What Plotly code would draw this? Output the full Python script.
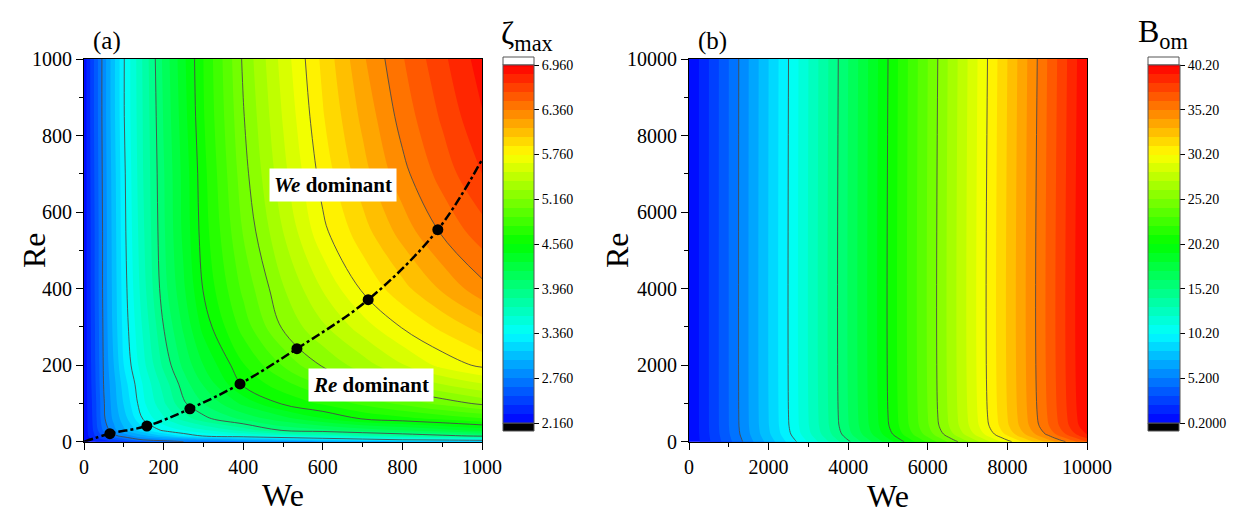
import plotly.graph_objects as go

# ---------------- data: panel (a) zeta_max(We, Re) ----------------
we_a = [0, 25, 50, 75, 100, 150, 200, 250, 300, 400, 500, 600, 700, 800, 900, 1000]
re_a = [0, 5, 15, 30, 60, 100, 150, 200, 300, 400, 550, 700, 850, 1000]
zeta_re0 = [2.20, 2.26, 2.33, 2.40, 2.47, 2.60, 2.70, 2.76, 2.80, 2.86, 2.92, 2.98, 3.04, 3.10, 3.15, 3.20]
zeta_re5 = [2.20, 2.30, 2.40, 2.50, 2.60, 2.77, 2.81, 2.86, 2.91, 3.00, 3.09, 3.18, 3.27, 3.36, 3.39, 3.42]
zeta_re15 = [2.20, 2.38, 2.55, 2.72, 2.81, 2.96, 3.11, 3.26, 3.37, 3.46, 3.55, 3.64, 3.73, 3.82, 3.91, 3.99]
zeta_re30 = [2.20, 2.42, 2.67, 2.84, 2.98, 3.20, 3.39, 3.49, 3.58, 3.77, 3.98, 4.05, 4.13, 4.20, 4.28, 4.36]
zeta_re60 = [2.20, 2.44, 2.74, 2.91, 3.06, 3.38, 3.58, 3.77, 3.92, 4.11, 4.27, 4.43, 4.57, 4.64, 4.71, 4.79]
zeta_re100 = [2.20, 2.45, 2.75, 2.94, 3.13, 3.46, 3.70, 3.94, 4.08, 4.35, 4.58, 4.70, 4.83, 4.95, 5.08, 5.19]
zeta_re150 = [2.20, 2.47, 2.77, 2.96, 3.18, 3.50, 3.77, 4.02, 4.21, 4.58, 4.75, 4.94, 5.15, 5.28, 5.40, 5.51]
zeta_re200 = [2.20, 2.48, 2.78, 3.00, 3.24, 3.57, 3.87, 4.11, 4.32, 4.67, 4.93, 5.18, 5.34, 5.51, 5.68, 5.79]
zeta_re300 = [2.20, 2.49, 2.79, 3.04, 3.28, 3.63, 3.96, 4.22, 4.48, 4.85, 5.18, 5.38, 5.58, 5.77, 5.91, 6.05]
zeta_re400 = [2.20, 2.50, 2.80, 3.05, 3.30, 3.68, 4.03, 4.30, 4.57, 4.95, 5.27, 5.53, 5.78, 5.96, 6.14, 6.32]
zeta_re550 = [2.20, 2.50, 2.80, 3.06, 3.32, 3.71, 4.06, 4.35, 4.62, 5.05, 5.40, 5.73, 5.95, 6.17, 6.38, 6.55]
zeta_re700 = [2.20, 2.51, 2.81, 3.07, 3.33, 3.73, 4.07, 4.36, 4.64, 5.11, 5.48, 5.81, 6.07, 6.32, 6.53, 6.72]
zeta_re850 = [2.20, 2.52, 2.82, 3.09, 3.35, 3.74, 4.09, 4.39, 4.67, 5.15, 5.53, 5.87, 6.15, 6.41, 6.62, 6.83]
zeta_re1000 = [2.20, 2.52, 2.82, 3.09, 3.35, 3.75, 4.11, 4.41, 4.68, 5.18, 5.57, 5.91, 6.22, 6.47, 6.69, 6.90]
zeta_grid = [zeta_re0, zeta_re5, zeta_re15, zeta_re30, zeta_re60, zeta_re100, zeta_re150,
             zeta_re200, zeta_re300, zeta_re400, zeta_re550, zeta_re700, zeta_re850, zeta_re1000]

# transition curve (dash-dot) and its markers
trans_we = [0, 65, 158, 266, 392, 535, 714, 889, 1000]
trans_re = [0, 21, 41, 86, 151, 243, 371, 554, 737]
dots_we = [65, 158, 266, 392, 535, 714, 889]
dots_re = [21, 41, 86, 151, 243, 371, 554]

# ---------------- data: panel (b) B_om(We, Re) ----------------
we_b = [0, 1000, 2000, 3000, 4000, 5000, 6000, 7000, 8000, 9000, 10000]
re_b = [0, 50, 100, 200, 400, 700, 10000]
bom_re0 = [0.20, 3.90, 7.60, 11.30, 15.00, 18.70, 22.40, 26.10, 29.80, 33.50, 37.20]
bom_re50 = [0.20, 3.96, 7.72, 11.48, 15.24, 19.00, 22.76, 26.52, 30.28, 34.04, 37.80]
bom_re100 = [0.20, 4.01, 7.83, 11.64, 15.46, 19.27, 23.08, 26.90, 30.71, 34.53, 38.34]
bom_re200 = [0.20, 4.11, 8.02, 11.93, 15.84, 19.75, 23.66, 27.57, 31.48, 35.39, 39.30]
bom_re400 = [0.20, 4.18, 8.15, 12.13, 16.10, 20.08, 24.06, 28.03, 32.01, 35.98, 39.96]
bom_re700 = [0.20, 4.20, 8.20, 12.20, 16.20, 20.20, 24.20, 28.20, 32.20, 36.20, 40.20]
bom_re10000 = [0.20, 4.20, 8.20, 12.20, 16.20, 20.20, 24.20, 28.20, 32.20, 36.20, 40.20]
bom_grid = [bom_re0, bom_re50, bom_re100, bom_re200, bom_re400, bom_re700, bom_re10000]

# colour-bar tick values / labels
cb_a_vals = [2.16, 2.76, 3.36, 3.96, 4.56, 5.16, 5.76, 6.36, 6.96]
cb_a_text = ["2.160", "2.760", "3.360", "3.960", "4.560", "5.160", "5.760", "6.360", "6.960"]
cb_b_vals = [0.2, 5.2, 10.2, 15.2, 20.2, 25.2, 30.2, 35.2, 40.2]
cb_b_text = ["0.2000", "5.200", "10.20", "15.20", "20.20", "25.20", "30.20", "35.20", "40.20"]

# ---------------- styling ----------------
W, H = 1233, 514
FONT = "Times New Roman, Liberation Serif, serif"
jet = [[0.0, "rgb(0,0,255)"], [0.25, "rgb(0,255,255)"], [0.5, "rgb(0,255,0)"],
       [0.75, "rgb(255,255,0)"], [1.0, "rgb(255,0,0)"]]

def px_x(p):
    return p / W

def px_y(p):
    return 1 - p / H

ax_a = [px_x(84), px_x(482)]
ax_b = [px_x(689), px_x(1087)]
ay = [px_y(441.7), px_y(59)]

fig = go.Figure()

# panel (a) filled contours
fig.add_trace(go.Contour(
    x=we_a, y=re_a, z=zeta_grid, colorscale=jet, zmin=2.16, zmax=6.96,
    contours=dict(start=2.16, end=6.96, size=0.12, coloring="fill", showlines=False),
    line=dict(width=0, smoothing=1.0),
    colorbar=dict(x=px_x(503), xanchor="left", y=px_y(244), yanchor="middle",
                  len=358 / H, lenmode="fraction", thickness=31, thicknessmode="pixels",
                  outlinewidth=1, outlinecolor="#555", tickmode="array",
                  tickvals=cb_a_vals, ticktext=cb_a_text, ticks="outside", ticklen=5,
                  tickcolor="black", tickfont=dict(family=FONT, size=14, color="black"),
                  xpad=0, ypad=0),
    xaxis="x", yaxis="y", hoverinfo="skip"))
# panel (a) contour lines
fig.add_trace(go.Contour(
    x=we_a, y=re_a, z=zeta_grid, showscale=False,
    contours=dict(start=2.76, end=6.36, size=0.6, coloring="none"),
    line=dict(width=0.9, color="#4a4a4a", smoothing=1.0),
    xaxis="x", yaxis="y", hoverinfo="skip"))
# transition line and markers
fig.add_trace(go.Scatter(x=trans_we, y=trans_re, mode="lines",
                         line=dict(color="black", width=2.5, dash="dashdot", shape="spline"),
                         xaxis="x", yaxis="y", showlegend=False, hoverinfo="skip"))
fig.add_trace(go.Scatter(x=dots_we, y=dots_re, mode="markers",
                         marker=dict(color="black", size=11),
                         xaxis="x", yaxis="y", showlegend=False, hoverinfo="skip"))

# panel (b) filled contours
fig.add_trace(go.Contour(
    x=we_b, y=re_b, z=bom_grid, colorscale=jet, zmin=0.2, zmax=40.2,
    contours=dict(start=0.2, end=40.2, size=1.0, coloring="fill", showlines=False),
    line=dict(width=0, smoothing=1.0),
    colorbar=dict(x=px_x(1148), xanchor="left", y=px_y(244), yanchor="middle",
                  len=358 / H, lenmode="fraction", thickness=32, thicknessmode="pixels",
                  outlinewidth=1, outlinecolor="#555", tickmode="array",
                  tickvals=cb_b_vals, ticktext=cb_b_text, ticks="outside", ticklen=5,
                  tickcolor="black", tickfont=dict(family=FONT, size=14, color="black"),
                  xpad=0, ypad=0),
    xaxis="x2", yaxis="y2", hoverinfo="skip"))
fig.add_trace(go.Contour(
    x=we_b, y=re_b, z=bom_grid, showscale=False,
    contours=dict(start=5.2, end=35.2, size=5.0, coloring="none"),
    line=dict(width=0.9, color="#4a4a4a", smoothing=1.0),
    xaxis="x2", yaxis="y2", hoverinfo="skip"))

axis_common = dict(showgrid=False, zeroline=False, showline=True, linecolor="black",
                   linewidth=1.2, mirror=True, ticks="outside", ticklen=7, tickwidth=1.2,
                   tickcolor="black", automargin=False,
                   tickfont=dict(family=FONT, size=20, color="black"))

fig.update_layout(
    width=W, height=H, margin=dict(l=0, r=0, t=0, b=0, autoexpand=False),
    paper_bgcolor="white", plot_bgcolor="white", showlegend=False,
    font=dict(family=FONT, color="black"),
    xaxis=dict(domain=ax_a, anchor="y", range=[0, 1000], dtick=200, tick0=0,
               minor=dict(dtick=100, ticks="outside", ticklen=4, tickcolor="black"),
               title=dict(text="We", font=dict(family=FONT, size=32), standoff=6),
               **axis_common),
    yaxis=dict(domain=ay, anchor="x", range=[0, 1000], dtick=200, tick0=0,
               minor=dict(dtick=100, ticks="outside", ticklen=4, tickcolor="black"),
               **axis_common),
    xaxis2=dict(domain=ax_b, anchor="y2", range=[0, 10000], dtick=2000, tick0=0,
                tickformat="d",
                minor=dict(dtick=1000, ticks="outside", ticklen=4, tickcolor="black"),
                title=dict(text="We", font=dict(family=FONT, size=32), standoff=6),
                **axis_common),
    yaxis2=dict(domain=ay, anchor="x2", range=[0, 10000], dtick=2000, tick0=0,
                tickformat="d",
                minor=dict(dtick=1000, ticks="outside", ticklen=4, tickcolor="black"),
                **axis_common),
)

def paper_text(x, y, text, size, angle=0):
    fig.add_annotation(x=px_x(x), y=px_y(y), xref="paper", yref="paper", showarrow=False,
                       xanchor="center", yanchor="middle", textangle=angle,
                       text=text, font=dict(family=FONT, size=size, color="black"))

# y-axis titles
paper_text(34, 250, "Re", 32, -90)
paper_text(617, 250, "Re", 32, -90)

# region labels
fig.add_annotation(x=626, y=672, xref="x", yref="y", showarrow=False,
                   text="<b><i>We</i> dominant</b>", font=dict(family=FONT, size=21, color="black"),
                   bgcolor="white", borderpad=4)
fig.add_annotation(x=720, y=148, xref="x", yref="y", showarrow=False,
                   text="<b><i>Re</i> dominant</b>", font=dict(family=FONT, size=21, color="black"),
                   bgcolor="white", borderpad=4)

# panel labels and colour-bar titles
paper_text(107, 41, "(a)", 25)
paper_text(712, 41, "(b)", 25)
paper_text(527, 36, "ζ<sub>max</sub>", 32)
paper_text(1163, 34, "B<sub>om</sub>", 32)

# below/above range boxes of the colour bars
for x0 in (503, 1148):
    fig.add_shape(type="rect", xref="paper", yref="paper",
                  x0=px_x(x0), x1=px_x(x0 + 31), y0=px_y(65), y1=px_y(57),
                  fillcolor="white", line=dict(color="#555", width=1))
    fig.add_shape(type="rect", xref="paper", yref="paper",
                  x0=px_x(x0), x1=px_x(x0 + 31), y0=px_y(431), y1=px_y(423),
                  fillcolor="black", line=dict(color="#555", width=1))

fig.write_html("out.html")
